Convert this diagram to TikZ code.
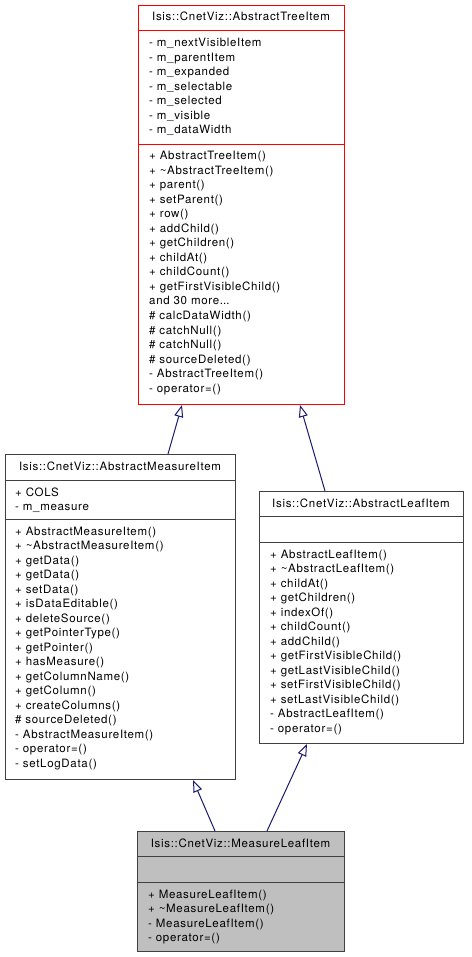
\documentclass[tikz,border=0pt]{standalone}
\usepackage{fontspec}
\setmainfont{TeX Gyre Heros}[LetterSpace=6]
\usetikzlibrary{arrows.meta}
\definecolor{edgeblue}{HTML}{191970}
\definecolor{boxgrey}{HTML}{BFBFBF}
\definecolor{boxline}{HTML}{404040}
\newcommand{\moredots}{.\kern0pt.\kern0pt.}
\tikzset{
  box/.style={draw=boxline, line width=1pt, fill=white, inner sep=0pt, anchor=north west},
  txt/.style={anchor=base west, inner sep=0pt, font=\fontsize{11.5}{14}\selectfont},
  ttl/.style={anchor=base, inner sep=0pt, font=\fontsize{11.5}{14}\selectfont},
  inherit/.style={draw=edgeblue, line width=1pt, -{Triangle[open, length=12pt, width=9pt, fill=white]}},
}
\begin{document}
\begin{tikzpicture}[x=1pt, y=-1pt]
\useasboundingbox (0,0) rectangle (471,957);
% ---- AbstractTreeItem
\node[box, draw=red, minimum width=206pt, minimum height=399pt] (tree) at (138,5) {};
\draw[draw=red, line width=1pt] (138,31) -- (344,31) (138,145) -- (344,145);
\node[ttl] (treeT) at (241,21) {Isis::CnetViz::AbstractTreeItem};
\foreach \t [count=\i] in {{- m\_nextVisibleItem},{- m\_parentItem},{- m\_expanded},{- m\_selectable},{- m\_selected},{- m\_visible},{- m\_dataWidth}}
  \node[txt] (treeA\i) at (149,{47+14.5*(\i-1)}) {\t};
\foreach \t [count=\i] in {{+ AbstractTreeItem()},{+ \textasciitilde AbstractTreeItem()},{+ parent()},{+ setParent()},{+ row()},{+ addChild()},{+ getChildren()},{+ childAt()},{+ childCount()},{+ getFirstVisibleChild()},{and 30 more\moredots},{\# calcDataWidth()},{\# catchNull()},{\# catchNull()},{\# sourceDeleted()},{- AbstractTreeItem()},{- operator=()}}
  \node[txt] (treeM\i) at (149,{160+14.5*(\i-1)}) {\t};
% ---- AbstractMeasureItem
\node[box, minimum width=230pt, minimum height=325pt] (meas) at (5,454) {};
\draw[draw=boxline, line width=1pt] (5,480) -- (235,480) (5,519) -- (235,519);
\node[ttl] (measT) at (120,470) {Isis::CnetViz::AbstractMeasureItem};
\foreach \t [count=\i] in {{+ COLS},{- m\_measure}}
  \node[txt] (measA\i) at (15,{496+14.5*(\i-1)}) {\t};
\foreach \t [count=\i] in {{+ AbstractMeasureItem()},{+ \textasciitilde AbstractMeasureItem()},{+ getData()},{+ getData()},{+ setData()},{+ isDataEditable()},{+ deleteSource()},{+ getPointerType()},{+ getPointer()},{+ hasMeasure()},{+ getColumnName()},{+ getColumn()},{+ createColumns()},{\# sourceDeleted()},{- AbstractMeasureItem()},{- operator=()},{- setLogData()}}
  \node[txt] (measM\i) at (15,{535+14.5*(\i-1)}) {\t};
% ---- AbstractLeafItem
\node[box, minimum width=204pt, minimum height=252pt] (leaf) at (259,491) {};
\draw[draw=boxline, line width=1pt] (259,516) -- (463,516) (259,542) -- (463,542);
\node[ttl] (leafT) at (361,507) {Isis::CnetViz::AbstractLeafItem};
\foreach \t [count=\i] in {{+ AbstractLeafItem()},{+ \textasciitilde AbstractLeafItem()},{+ childAt()},{+ getChildren()},{+ indexOf()},{+ childCount()},{+ addChild()},{+ getFirstVisibleChild()},{+ getLastVisibleChild()},{+ setFirstVisibleChild()},{+ setLastVisibleChild()},{- AbstractLeafItem()},{- operator=()}}
  \node[txt] (leafM\i) at (270,{558+14.5*(\i-1)}) {\t};
% ---- MeasureLeafItem
\node[box, fill=boxgrey, minimum width=207pt, minimum height=120pt] (mli) at (137,831) {};
\draw[draw=boxline, line width=1pt] (137,856) -- (344,856) (137,882) -- (344,882);
\node[ttl] (mliT) at (240.5,847) {Isis::CnetViz::MeasureLeafItem};
\foreach \t [count=\i] in {{+ MeasureLeafItem()},{+ \textasciitilde MeasureLeafItem()},{- MeasureLeafItem()},{- operator=()}}
  \node[txt] (mliM\i) at (148,{898+14.5*(\i-1)}) {\t};
% ---- inheritance connectors
\draw[inherit] ([xshift=163pt]meas.north west) -- ([xshift=44pt]tree.south west);
\draw[inherit] ([xshift=66pt]leaf.north west) -- ([xshift=162pt]tree.south west);
\draw[inherit] ([xshift=78pt]mli.north west) -- ([xshift=188pt]meas.south west);
\draw[inherit] ([xshift=130pt]mli.north west) -- ([xshift=48pt]leaf.south west);
\end{tikzpicture}
\end{document}
